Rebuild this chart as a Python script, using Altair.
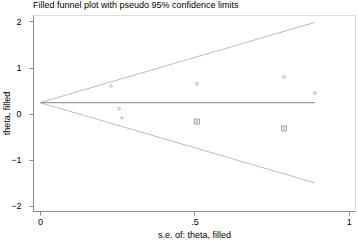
import altair as alt
import pandas as pd

# observed studies
obs_se = [0.23, 0.256, 0.265, 0.508, 0.79, 0.89]
obs_theta = [0.60, 0.11, -0.09, 0.65, 0.80, 0.45]
# filled (imputed) studies
fill_se = [0.508, 0.79]
fill_theta = [-0.17, -0.32]
# funnel lines
line_se = [0.0, 0.89]
mean_theta = [0.24, 0.24]
upper_theta = [0.24, 1.98]
lower_theta = [0.24, -1.50]

x_ticks = [0, 0.5, 1]
y_ticks = [-2, -1, 0, 1, 2]

obs = pd.DataFrame({"se": obs_se, "theta": obs_theta})
fil = pd.DataFrame({"se": fill_se, "theta": fill_theta})
lines = pd.DataFrame({
    "se": line_se * 3,
    "theta": mean_theta + upper_theta + lower_theta,
    "which": ["mean"] * 2 + ["upper"] * 2 + ["lower"] * 2,
})

xs = alt.Scale(domain=[-0.023, 1.02], nice=False, zero=False)
ys = alt.Scale(domain=[-2.11, 2.14], nice=False, zero=False)

x_enc = alt.X("se:Q", scale=xs, axis=alt.Axis(
    values=x_ticks, title="s.e. of: theta, filled",
    labelExpr="datum.value == 0 ? '0' : (datum.value == 1 ? '1' : '.5')",
    grid=False, tickSize=4, labelPadding=2, titlePadding=4))
y_enc = alt.Y("theta:Q", scale=ys, axis=alt.Axis(
    values=y_ticks, title="theta, filled", grid=False,
    tickSize=4, labelPadding=8, titleX=-27, titleBaseline="middle"))

funnel = alt.Chart(lines).transform_filter(
    alt.datum.which != "mean"
).mark_line(color="#bcbcbc", strokeWidth=1).encode(
    x=x_enc, y=y_enc, detail="which:N")

mean = alt.Chart(lines).transform_filter(
    alt.datum.which == "mean"
).mark_line(color="#9c9c9c", strokeWidth=1.4).encode(x=x_enc, y=y_enc)

pts = alt.Chart(obs).mark_point(
    shape="diamond", size=10, filled=False, color="#808080", strokeWidth=1
).encode(x=x_enc, y=y_enc)

sq = alt.Chart(fil).mark_point(
    shape="M-1,-1H1V1H-1Z M-0.55,-0.55L0.55,0.55 M-0.55,0.55L0.55,-0.55",
    size=26, filled=False, color="#7a7a7a", strokeWidth=1
).encode(x=x_enc, y=y_enc)

chart = alt.layer(funnel, mean, pts, sq).properties(
    width=322, height=196,
    title=alt.TitleParams(
        "Filled funnel plot with pseudo 95% confidence limits",
        anchor="start", frame="group", fontSize=9, fontWeight="normal",
        font="Liberation Sans", color="#000000", offset=5),
    autosize=alt.AutoSizeParams(type="none"),
    padding={"left": 33, "top": 15, "right": 3, "bottom": 29},
).configure_view(stroke=None).configure(background="white").configure_axis(
    domainColor="#8c8c8c", tickColor="#8c8c8c", labelFont="Liberation Sans",
    titleFont="Liberation Sans", labelFontSize=9, titleFontSize=9,
    labelColor="#000000", titleColor="#000000", titleFontWeight="normal",
)

chart.save("out.html", embed_options={"renderer": "svg", "actions": False})
